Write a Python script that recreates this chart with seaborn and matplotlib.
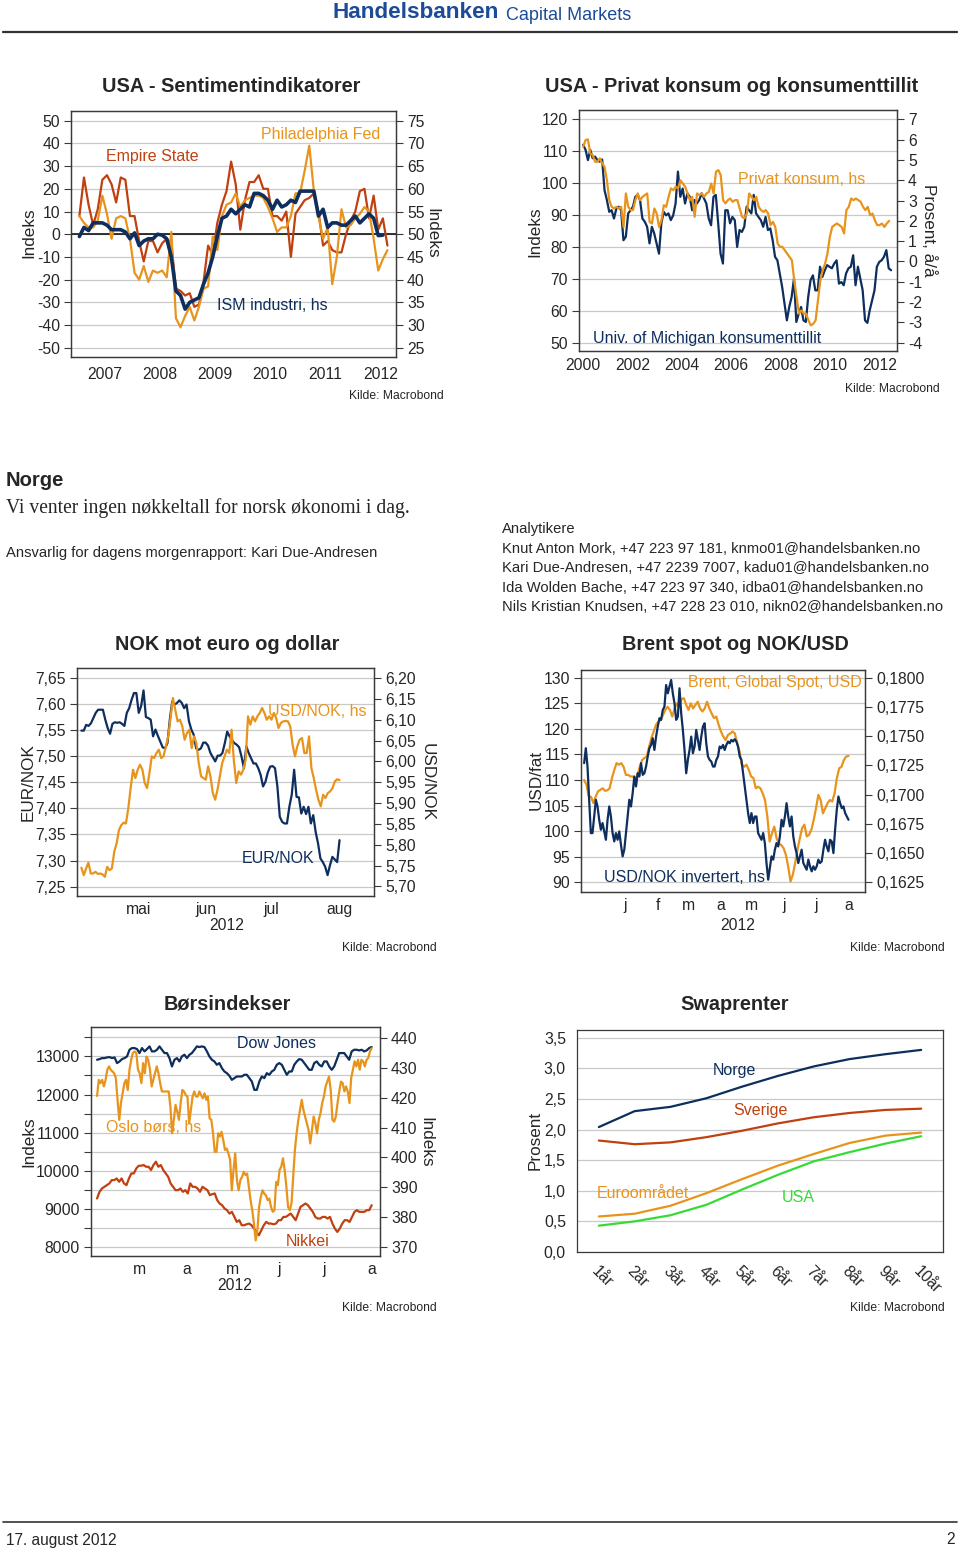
import numpy as np
import pandas as pd
import matplotlib
matplotlib.use("Agg")
import matplotlib.pyplot as plt
import matplotlib.dates as mdates
from matplotlib.ticker import FuncFormatter, NullFormatter
import seaborn as sns

# ---------------- data ----------------
# Panel 1: USA sentiment, monthly Jan 2007 - Aug 2012
empire = [8, 25, 13, 4, 11, 24, 26, 22, 14, 25, 24, 8, 8, -3, -12, -3, -3, -8, -4, -2,
          -4, -24, -25, -27, -26, -32, -31, -21, -5, -9, 5, 13, 19, 32, 22, 2, 15, 23, 23, 26,
          20, 20, 8, 8, 6, 10, -10, 9, 12, 15, 16, 18, 10, -5, -3, -7, -8, -8, 0, 6,
          10, 19, 20, 7, 17, 2, 7, -5]
philly = [8, 5, 3, 3, 6, 17, 9, -2, 7, 8, 7, -2, -17, -20, -14, -21, -16, -17, -16, -19,
          1, -37, -41, -36, -32, -38, -32, -24, -23, -1, -7, 8, 13, 14, 18, 12, 15, 16, 17, 17,
          16, 12, 7, 1, 3, 3, 8, 18, 18, 28, 39, 19, 8, -2, 3, -22, -10, 11, 3, 4,
          7, 9, 12, 10, -2, -16, -11, -7]
ism = [49.5, 51.5, 50.8, 52.5, 52.5, 52.5, 52, 51, 51, 51, 50.5, 49, 50.3, 47.5, 48.5, 49, 49, 50, 49.8, 49,
       45, 37.5, 36.5, 33.5, 35, 35.5, 36, 39, 41.5, 45, 49.5, 53.5, 54, 55.5, 54.5, 55.5, 56.5, 56, 59, 59,
       58.5, 57.5, 55.5, 57.5, 56, 56.5, 57.5, 57, 59.5, 59.5, 59.5, 59.5, 54, 55.5, 51.5, 52.5, 52.5, 52, 52, 53,
       54, 52.5, 53.5, 54.5, 53.5, 49.7, 49.8]
p1_years = ["2007", "2008", "2009", "2010", "2011", "2012"]

# Panel 2: Michigan sentiment (index) and private consumption y/y (%), 2000 - mid 2012
umich = [112, 110.4, 107.2, 110.4, 107.8, 108.3, 107.2, 106.7, 107.4, 97.8, 94.7, 91, 91.5, 88.9, 92, 92.6,
         91.5, 82.1, 83.2, 90.5, 91.5, 92.6, 95.7, 96.3, 94.7, 88.9, 87.9, 86.3, 81.1, 86.3, 84.2, 81.1,
         77.9, 87.4, 91, 89.9, 90.5, 88.4, 89.9, 93.6, 103.6, 95.7, 98.3, 93.6, 96.8, 95.7, 91.5, 94.7,
         93.6, 94.7, 96.8, 95.2, 93.6, 88.9, 86.8, 95.7, 96.3, 87.4, 77.9, 74.8, 91.5, 91.5, 87.4, 89.4,
         88.4, 80.0, 85.3, 84.7, 86.3, 92.6, 91.5, 90.5, 96.3, 90.5, 89.4, 88.4, 86.3, 89.4, 85.3, 85.8,
         82.1, 76.9, 75.8, 71.7, 67.5, 62.2, 57.0, 61.2, 64.3, 70.1, 56.5, 59.1, 61.2, 57, 56.5, 64.3,
         69.6, 71.1, 66.4, 66.4, 73.8, 70.6, 72.7, 74.3, 73.8, 73.3, 74.8, 75.8, 68.5, 69.0, 68.0, 71.7,
         73.3, 73.8, 77.4, 68.0, 73.8, 70.1, 66.4, 57.0, 56.2, 60.2, 63.3, 66.4, 73.8, 75.3, 75.8, 76.9,
         79.0, 73.3, 72.7]
pce = [5.65, 5.98, 6.01, 5.32, 5.24, 4.91, 4.91, 5.08, 4.83, 4.66, 4.0, 3.02, 2.69, 2.61, 2.69, 2.61,
       2.69, 1.70, 3.35, 2.69, 2.53, 2.53, 3.02, 3.35, 3.02, 3.18, 3.27, 3.35, 1.95, 1.87, 2.61, 2.36,
       1.70, 2.03, 2.77, 2.69, 3.18, 3.60, 3.51, 3.68, 3.60, 4.0, 3.84, 3.68, 3.35, 3.02, 3.18, 2.2,
       3.35, 3.27, 3.35, 3.18, 3.35, 3.43, 3.84, 3.35, 4.42, 4.50, 4.25, 3.02, 2.86, 3.02, 3.10, 2.94,
       3.02, 3.02, 2.61, 2.20, 2.12, 2.36, 3.35, 3.18, 3.02, 3.18, 2.69, 2.53, 2.44, 2.53, 2.36, 1.79,
       1.95, 1.70, 0.88, 0.72, 0.72, 0.55, 0.39, 0.22, 0.06, -0.93, -1.75, -2.57, -2.41, -2.57, -2.57, -2.90,
       -3.15, -3.07, -2.90, -1.91, -0.93, -0.43, -0.11, 0.39, 1.21, 1.70, 1.79, 1.87, 1.79, 1.70, 1.38, 2.53,
       2.69, 3.10, 3.02, 3.10, 3.02, 2.94, 2.69, 2.53, 2.69, 2.28, 2.36, 2.03, 1.79, 1.79, 1.87, 1.70,
       1.87, 2.0]

# Panel 3: EUR/NOK and USD/NOK, daily 20 Apr - 16 Aug 2012
eurnok = [7.549, 7.549, 7.560, 7.558, 7.563, 7.573, 7.583, 7.589, 7.589, 7.589, 7.570, 7.554, 7.543, 7.562,
          7.565, 7.564, 7.565, 7.562, 7.558, 7.583, 7.592, 7.608, 7.621, 7.621, 7.583, 7.596, 7.626, 7.575,
          7.573, 7.570, 7.538, 7.551, 7.539, 7.528, 7.517, 7.515, 7.525, 7.570, 7.605, 7.599, 7.602, 7.607,
          7.602, 7.592, 7.599, 7.567, 7.551, 7.541, 7.515, 7.512, 7.515, 7.526, 7.526, 7.520, 7.506, 7.498,
          7.490, 7.501, 7.501, 7.506, 7.525, 7.547, 7.538, 7.531, 7.525, 7.522, 7.517, 7.499, 7.477, 7.519,
          7.506, 7.496, 7.486, 7.486, 7.477, 7.464, 7.442, 7.451, 7.469, 7.480, 7.481, 7.477, 7.442, 7.384,
          7.374, 7.371, 7.371, 7.403, 7.426, 7.474, 7.422, 7.421, 7.390, 7.403, 7.389, 7.403, 7.371, 7.387,
          7.355, 7.333, 7.304, 7.297, 7.288, 7.272, 7.291, 7.307, 7.302, 7.297, 7.339]
usdnok = [5.745, 5.727, 5.743, 5.757, 5.731, 5.731, 5.735, 5.730, 5.731, 5.729, 5.723, 5.747, 5.739, 5.743,
          5.783, 5.803, 5.835, 5.847, 5.853, 5.851, 5.888, 5.936, 5.980, 5.960, 5.980, 5.992, 5.980, 5.948,
          5.936, 5.972, 6.012, 6.008, 6.020, 6.028, 6.008, 6.012, 6.036, 6.060, 6.104, 6.152, 6.124, 6.096,
          6.100, 6.084, 6.052, 6.068, 6.076, 6.032, 6.060, 6.044, 5.996, 5.964, 5.960, 5.956, 5.988, 5.964,
          5.924, 5.908, 5.932, 5.964, 5.996, 6.012, 6.028, 6.020, 6.076, 6.000, 5.948, 5.976, 5.968, 5.980,
          6.004, 6.108, 6.088, 6.108, 6.096, 6.108, 6.116, 6.128, 6.116, 6.100, 6.108, 6.100, 6.116, 6.104,
          6.080, 6.092, 6.096, 6.097, 6.096, 6.084, 6.040, 6.012, 6.036, 6.052, 6.056, 6.020, 6.020, 6.060,
          5.984, 5.960, 5.932, 5.908, 5.892, 5.920, 5.912, 5.924, 5.928, 5.936, 5.952, 5.957, 5.955]
p3_months = ["mai", "jun", "jul", "aug"]

# Panel 4: Brent (USD/fat) and inverted USD/NOK, daily 8 Dec 2011 - 16 Aug 2012
brent = [110.0, 109.1, 106.8, 106.7, 105.5, 106.8, 107.8, 108.1, 108.4, 107.9, 108.0, 108.4, 110.4, 112.0,
         113.3, 113.0, 113.3, 112.6, 111.0, 111.0, 110.7, 110.7, 110.0, 111.0, 112.6, 113.9, 114.3, 114.6,
         116.5, 118.2, 119.5, 120.8, 121.4, 121.7, 122.7, 123.7, 124.3, 123.7, 122.4, 124.0, 125.0, 124.3,
         125.8, 126.0, 124.7, 123.7, 125.0, 124.0, 124.7, 125.3, 124.0, 123.4, 124.0, 125.3, 124.0, 123.0,
         122.1, 122.4, 120.8, 119.5, 118.5, 117.8, 118.8, 119.1, 119.5, 119.1, 117.2, 115.6, 113.0, 112.6,
         113.0, 112.0, 110.7, 110.4, 108.4, 108.7, 108.4, 107.4, 106.1, 102.9, 98.0, 99.6, 100.9, 98.6,
         97.6, 97.3, 96.7, 95.4, 93.1, 90.2, 91.5, 93.8, 96.4, 98.6, 100.6, 101.3, 99.0, 99.3, 100.3, 102.2,
         104.5, 107.1, 106.1, 103.5, 104.5, 105.5, 106.1, 105.8, 107.4, 110.4, 112.3, 112.6, 113.9, 114.6,
         114.7]
nok_inv = [0.17269, 0.17397, 0.17240, 0.16956, 0.16671, 0.16671, 0.16813, 0.16956, 0.16899, 0.16785,
           0.16700, 0.16757, 0.16685, 0.16614, 0.16785, 0.16899, 0.16813, 0.16671, 0.16600, 0.16671,
           0.16614, 0.16685, 0.16572, 0.16472, 0.16529, 0.16671, 0.16813, 0.16956, 0.16899, 0.17013,
           0.17155, 0.17070, 0.17183, 0.17155, 0.17269, 0.17169, 0.17183, 0.17240, 0.17326, 0.17397,
           0.17425, 0.17482, 0.17382, 0.17496, 0.17582, 0.17653, 0.17639, 0.17724, 0.17752, 0.17937,
           0.17866, 0.17923, 0.17980, 0.17866, 0.17781, 0.17639, 0.17667, 0.17909, 0.17696, 0.17553,
           0.17382, 0.17183, 0.17297, 0.17382, 0.17496, 0.17354, 0.17411, 0.17553, 0.17468, 0.17382,
           0.17496, 0.17582, 0.17610, 0.17439, 0.17326, 0.17297, 0.17283, 0.17240, 0.17240, 0.17297,
           0.17326, 0.17411, 0.17397, 0.17425, 0.17382, 0.17425, 0.17454, 0.17439, 0.17468, 0.17454,
           0.17474, 0.17454, 0.17411, 0.17326, 0.17297, 0.17183, 0.17070, 0.16956, 0.16842, 0.16757,
           0.16842, 0.16757, 0.16813, 0.16813, 0.16671, 0.16643, 0.16614, 0.16671, 0.16586, 0.16415,
           0.16273, 0.16373, 0.16472, 0.16444, 0.16529, 0.16586, 0.16557, 0.16643, 0.16785, 0.16728,
           0.16813, 0.16927, 0.16813, 0.16728, 0.16813, 0.16643, 0.16557, 0.16500, 0.16415, 0.16472,
           0.16529, 0.16415, 0.16387, 0.16358, 0.16444, 0.16387, 0.16344, 0.16387, 0.16358, 0.16387,
           0.16444, 0.16415, 0.16430, 0.16529, 0.16614, 0.16557, 0.16515, 0.16614, 0.16600, 0.16500,
           0.16700, 0.16870, 0.16984, 0.16927, 0.16884, 0.16899, 0.16842, 0.16813, 0.16785]
p4_months = ["j", "f", "m", "a", "m", "j", "j", "a"]

# Panel 5: stock indices, daily 17 Feb - 16 Aug 2012
dow = [12912, 12930, 12956, 12956, 12974, 12982, 12956, 12974, 12825, 12868, 12930, 12956, 13000, 13175,
       13219, 13219, 13193, 13088, 13219, 13132, 13193, 13263, 13132, 13132, 13175, 13263, 13175, 13088,
       13088, 12956, 12737, 12912, 12956, 12868, 13000, 13044, 12956, 13044, 13088, 13175, 13263, 13246,
       13263, 13246, 13132, 13000, 12912, 12868, 12781, 12825, 12693, 12605, 12561, 12491, 12386, 12430,
       12474, 12474, 12474, 12518, 12518, 12430, 12342, 12123, 12123, 12342, 12474, 12430, 12561, 12518,
       12605, 12649, 12781, 12825, 12781, 12649, 12518, 12605, 12605, 12781, 12868, 12930, 12912, 12825,
       12737, 12649, 12649, 12825, 12868, 12781, 12737, 12868, 12868, 12737, 12649, 12737, 12912, 13088,
       13088, 13088, 13000, 12912, 13132, 13175, 13175, 13158, 13175, 13132, 13158, 13219, 13246]
oslo = [420.6, 426.0, 424.9, 426.0, 423.8, 426.0, 429.4, 430.5, 429.4, 428.8, 428.2, 426.6, 419.3, 412.6,
        418.2, 421.5, 424.9, 426.0, 422.6, 429.4, 432.7, 435.0, 435.5, 435.0, 429.4, 428.2, 424.9, 431.6,
        428.2, 433.8, 432.7, 429.4, 423.8, 426.0, 428.2, 430.5, 428.2, 424.9, 422.1, 422.1, 422.1, 422.1,
        422.1, 417.0, 408.1, 412.6, 417.6, 415.4, 412.6, 418.2, 422.6, 422.1, 420.9, 420.4, 411.4, 415.9,
        420.4, 422.1, 420.4, 420.4, 422.1, 420.9, 419.8, 421.5, 419.3, 420.4, 413.1, 412.6, 408.1, 401.9,
        401.9, 408.1, 407.0, 408.6, 405.8, 402.5, 403.0, 401.4, 399.2, 389.0, 395.8, 401.4, 392.4, 389.0,
        392.4, 393.5, 395.2, 394.1, 394.6, 390.2, 385.7, 382.3, 377.8, 372.2, 375.6, 383.4, 386.8, 389.0,
        387.9, 387.3, 385.7, 386.2, 383.4, 381.8, 382.3, 391.8, 390.7, 395.8, 396.9, 399.7, 395.8, 390.2,
        383.4, 382.3, 384.6, 393.5, 402.5, 408.1, 412.6, 415.9, 419.3, 415.9, 413.7, 411.4, 409.2, 404.7,
        409.2, 413.7, 411.4, 408.1, 412.6, 414.8, 418.2, 420.4, 423.8, 425.4, 427.1, 422.6, 412.6, 412.0,
        413.7, 418.2, 422.1, 425.4, 424.9, 422.1, 423.8, 422.1, 418.2, 426.6, 429.4, 432.2, 430.5, 432.7,
        429.4, 432.7, 432.2, 430.5, 432.7, 433.3, 435.5, 436.6]
nikkei = [9272, 9447, 9535, 9579, 9623, 9667, 9754, 9754, 9798, 9711, 9798, 9667, 9623, 9798, 9930, 9930,
          10061, 10132, 10132, 10149, 10105, 10105, 10018, 10149, 10237, 10105, 10149, 10018, 9930, 9842,
          9667, 9579, 9491, 9491, 9535, 9447, 9491, 9404, 9667, 9579, 9579, 9535, 9447, 9579, 9535, 9491,
          9360, 9386, 9404, 9228, 9140, 9096, 9009, 8965, 8877, 8921, 8789, 8658, 8702, 8570, 8570, 8596,
          8614, 8570, 8482, 8395, 8307, 8439, 8570, 8658, 8614, 8614, 8596, 8614, 8702, 8702, 8789, 8789,
          8833, 8877, 8789, 8702, 8877, 9053, 9096, 9140, 9096, 9009, 8921, 8789, 8746, 8746, 8789, 8789,
          8746, 8789, 8614, 8482, 8395, 8482, 8614, 8702, 8702, 8658, 8789, 8921, 8965, 8921, 8921, 8921,
          8965, 8965, 9096]
p5_months = ["m", "a", "m", "j", "j", "a"]

# Panel 6: swap curves (%)
tenors = ["1år", "2år", "3år", "4år", "5år", "6år", "7år", "8år", "9år", "10år"]
swap_norge = [2.04, 2.30, 2.37, 2.51, 2.70, 2.875, 3.03, 3.15, 3.23, 3.30]
swap_sverige = [1.82, 1.76, 1.79, 1.875, 1.98, 2.10, 2.20, 2.27, 2.32, 2.34]
swap_euro = [0.58, 0.625, 0.755, 0.96, 1.19, 1.41, 1.60, 1.78, 1.90, 1.95]
swap_usa = [0.43, 0.50, 0.60, 0.77, 1.02, 1.26, 1.48, 1.63, 1.77, 1.89]

# ---------------- style ----------------
sns.set_style("white")
plt.rcParams['font.family'] = ['Liberation Sans', 'DejaVu Sans']
plt.rcParams['axes.unicode_minus'] = False

NAVY = '#0E2E5E'
ORANGE = '#E8941C'
RED = '#C0400F'
GREEN = '#36DB36'
GRID = '#C9C9C9'
SPINE = '#3A3A3A'
BLUE_HDR = '#1C4B98'
TICK_FS = 11.3
LAB_FS = 12.3
SER_FS = 11.5
TITLE_FS = 14.3
SRC_FS = 8.7
BODY_FS = 10.6

W, H = 960, 1550
fig = plt.figure(figsize=(W / 100, H / 100), dpi=100)


def rect(x0, y0, x1, y1):
    return [x0 / W, 1 - y1 / H, (x1 - x0) / W, (y1 - y0) / H]


def ftext(x, y, s, **kw):
    kw.setdefault('va', 'center')
    fig.text(x / W, 1 - y / H, s, **kw)


def style(ax):
    for s in ax.spines.values():
        s.set_color(SPINE)
        s.set_linewidth(0.9)
    ax.tick_params(axis='both', which='both', direction='out', width=0.8, color=SPINE,
                   labelsize=TICK_FS, pad=3, length=5)
    ax.set_xlabel('')
    ax.set_ylabel('')


def comma(dec):
    return FuncFormatter(lambda v, p: f"{v:.{dec}f}".replace('.', ','))


def month_axis(ax, first_month, names, year=2012):
    ax.xaxis.set_major_locator(mdates.MonthLocator())
    ax.xaxis.set_major_formatter(NullFormatter())
    mids = [mdates.date2num(pd.Timestamp(year, first_month + i, 16)) for i in range(len(names))]
    ax.set_xticks(mids, minor=True)
    ax.set_xticklabels(names, minor=True)
    ax.tick_params(axis='x', which='minor', length=0, pad=4)
    ax.tick_params(axis='x', which='major', length=5)


# ---------------- header / footer ----------------
fig.add_artist(plt.Line2D([3 / W, 957 / W], [1 - 32 / H, 1 - 32 / H], color='#333333', lw=1.6))
fig.add_artist(plt.Line2D([3 / W, 957 / W], [1 - 1522 / H, 1 - 1522 / H], color='#333333', lw=1.2))
ftext(333, 13, "Handelsbanken", ha='left', color=BLUE_HDR, fontsize=16.2, fontweight='bold')
ftext(506, 15, "Capital Markets", ha='left', color=BLUE_HDR, fontsize=13)
ftext(6, 1540, "17. august 2012", ha='left', fontsize=11.2)
ftext(955, 1540, "2", ha='right', fontsize=11.2)

# ---------------- Panel 1 ----------------
ax1 = fig.add_axes(rect(71, 111, 396, 357))
t1 = 2007 + (np.arange(len(empire)) + 0.5) / 12
sns.lineplot(x=t1, y=empire, ax=ax1, color=RED, lw=1.6)
sns.lineplot(x=t1, y=philly, ax=ax1, color=ORANGE, lw=1.6)
ax1.axhline(0, color='black', lw=1.1, zorder=1.5)
ax1b = ax1.twinx()
sns.lineplot(x=t1[:len(ism)], y=ism, ax=ax1b, color=NAVY, lw=2.6)
ax1.set_ylim(-54.1, 54.3)
ax1.set_yticks(range(-50, 51, 10))
ax1.yaxis.grid(True, color=GRID, lw=0.9)
ax1.set_axisbelow(True)
ax1.set_xticks(range(2007, 2013))
ax1.set_xticklabels([])
ax1.set_xticks(np.arange(2007.5, 2013, 1), minor=True)
ax1.set_xticklabels(p1_years, minor=True)
style(ax1)
ax1.tick_params(axis='x', which='minor', length=0, pad=7)
ax1b.set_ylim(22.95, 77.15)
ax1b.set_yticks(range(25, 76, 5))
style(ax1b)
ax1.set_xlim(2006.89, 2012.78)
ftext(231, 86, "USA - Sentimentindikatorer", ha='center', fontsize=TITLE_FS, fontweight='bold')
ftext(29, 233, "Indeks", ha='center', rotation=90, fontsize=LAB_FS)
ftext(432, 233, "Indeks", ha='center', rotation=270, fontsize=LAB_FS)
ftext(106, 157, "Empire State", ha='left', color=RED, fontsize=SER_FS)
ftext(380, 135, "Philadelphia Fed", ha='right', color=ORANGE, fontsize=SER_FS)
ftext(217, 306, "ISM industri, hs", ha='left', color=NAVY, fontsize=SER_FS)
ftext(444, 396, "Kilde: Macrobond", ha='right', fontsize=SRC_FS)

# ---------------- Panel 2 ----------------
ax2 = fig.add_axes(rect(579, 110, 897, 351))
t_um = np.linspace(2000.0, 2012.48, len(umich))
sns.lineplot(x=t_um, y=umich, ax=ax2, color=NAVY, lw=1.6)
ax2b = ax2.twinx()
t_pce = np.linspace(2000.0, 2012.40, len(pce))
sns.lineplot(x=t_pce, y=pce, ax=ax2b, color=ORANGE, lw=1.6)
ax2.set_ylim(47.4, 122.9)
ax2.set_yticks(range(50, 121, 10))
ax2.yaxis.grid(True, color=GRID, lw=0.9)
ax2.set_axisbelow(True)
ax2.set_xticks(range(2000, 2013, 2))
ax2.set_xticklabels([str(y) for y in range(2000, 2013, 2)])
style(ax2)
ax2.tick_params(axis='x', length=0, pad=5)
ax2b.set_ylim(-4.41, 7.46)
ax2b.set_yticks(range(-4, 8))
style(ax2b)
ax2.set_xlim(1999.83, 2012.72)
ftext(732, 86, "USA - Privat konsum og konsumenttillit", ha='center', fontsize=TITLE_FS, fontweight='bold')
ftext(535, 232, "Indeks", ha='center', rotation=90, fontsize=LAB_FS)
ftext(929, 230, "Prosent, å/å", ha='center', rotation=270, fontsize=LAB_FS)
ftext(738, 179, "Privat konsum, hs", ha='left', color=ORANGE, fontsize=SER_FS)
ftext(593, 339, "Univ. of Michigan konsumenttillit", ha='left', color=NAVY, fontsize=SER_FS)
ftext(940, 389, "Kilde: Macrobond", ha='right', fontsize=SRC_FS)

# ---------------- Text block ----------------
ftext(6, 481, "Norge", ha='left', fontsize=14.5, fontweight='bold')
ftext(6, 508, "Vi venter ingen nøkkeltall for norsk økonomi i dag.", ha='left', fontsize=14.1,
      family=['Liberation Serif', 'DejaVu Serif'])
ftext(6, 553, "Ansvarlig for dagens morgenrapport: Kari Due-Andresen", ha='left', fontsize=BODY_FS)
analysts = ["Analytikere",
            "Knut Anton Mork, +47 223 97 181, knmo01@handelsbanken.no",
            "Kari Due-Andresen, +47 2239 7007, kadu01@handelsbanken.no",
            "Ida Wolden Bache, +47 223 97 340, idba01@handelsbanken.no",
            "Nils Kristian Knudsen, +47 228 23 010, nikn02@handelsbanken.no"]
for i, line in enumerate(analysts):
    ftext(502, 529 + i * 19.6, line, ha='left', fontsize=BODY_FS)

# ---------------- Panel 3 ----------------
ax3 = fig.add_axes(rect(77, 668, 374, 896))
d3e = pd.Series(pd.date_range("2012-04-20", "2012-08-16", periods=len(eurnok)))
d3u = pd.Series(pd.date_range("2012-04-20", "2012-08-16", periods=len(usdnok)))
sns.lineplot(x=d3e, y=eurnok, ax=ax3, color=NAVY, lw=1.6)
ax3b = ax3.twinx()
sns.lineplot(x=d3u, y=usdnok, ax=ax3b, color=ORANGE, lw=1.6)
ax3.set_ylim(7.232, 7.669)
ax3.set_yticks(np.round(np.arange(7.25, 7.651, 0.05), 2))
ax3.yaxis.set_major_formatter(comma(2))
ax3.yaxis.grid(True, color=GRID, lw=0.9)
ax3.set_axisbelow(True)
style(ax3)
month_axis(ax3, 5, p3_months)
ax3b.set_ylim(5.677, 6.224)
ax3b.set_yticks(np.round(np.arange(5.70, 6.201, 0.05), 2))
ax3b.yaxis.set_major_formatter(comma(2))
style(ax3b)
ax3.set_xlim(mdates.date2num(pd.Timestamp("2012-04-18")), mdates.date2num(pd.Timestamp("2012-08-31 18:00")))
ftext(227, 644, "NOK mot euro og dollar", ha='center', fontsize=TITLE_FS, fontweight='bold')
ftext(28, 782, "EUR/NOK", ha='center', rotation=90, fontsize=LAB_FS)
ftext(427, 782, "USD/NOK", ha='center', rotation=270, fontsize=LAB_FS)
ftext(367, 712, "USD/NOK, hs", ha='right', color=ORANGE, fontsize=SER_FS)
ftext(242, 858, "EUR/NOK", ha='left', color=NAVY, fontsize=SER_FS)
ftext(227, 925, "2012", ha='center', fontsize=TICK_FS)
ftext(437, 948, "Kilde: Macrobond", ha='right', fontsize=SRC_FS)

# ---------------- Panel 4 ----------------
ax4 = fig.add_axes(rect(581, 670, 865, 892))
d4b = pd.Series(pd.date_range("2011-12-08", "2012-08-16", periods=len(brent)))
d4n = pd.Series(pd.date_range("2011-12-08", "2012-08-16", periods=len(nok_inv)))
sns.lineplot(x=d4b, y=brent, ax=ax4, color=ORANGE, lw=1.6)
ax4b = ax4.twinx()
sns.lineplot(x=d4n, y=nok_inv, ax=ax4b, color=NAVY, lw=1.6)
ax4.set_ylim(88.13, 131.5)
ax4.set_yticks(range(90, 131, 5))
ax4.yaxis.grid(True, color=GRID, lw=0.9)
ax4.set_axisbelow(True)
style(ax4)
month_axis(ax4, 1, p4_months)
ax4b.set_ylim(0.161675, 0.180654)
ax4b.set_yticks(np.round(np.arange(0.1625, 0.18001, 0.0025), 4))
ax4b.yaxis.set_major_formatter(comma(4))
style(ax4b)
ax4.set_xlim(mdates.date2num(pd.Timestamp("2011-12-05")), mdates.date2num(pd.Timestamp("2012-08-31 18:00")))
ftext(735, 644, "Brent spot og NOK/USD", ha='center', fontsize=TITLE_FS, fontweight='bold')
ftext(536, 780, "USD/fat", ha='center', rotation=90, fontsize=LAB_FS)
ftext(862, 683, "Brent, Global Spot, USD", ha='right', color=ORANGE, fontsize=SER_FS)
ftext(604, 877, "USD/NOK invertert, hs", ha='left', color=NAVY, fontsize=SER_FS)
ftext(738, 925, "2012", ha='center', fontsize=TICK_FS)
ftext(945, 948, "Kilde: Macrobond", ha='right', fontsize=SRC_FS)

# ---------------- Panel 5 ----------------
ax5 = fig.add_axes(rect(91, 1027, 380, 1256))
d5d = pd.Series(pd.date_range("2012-02-17", "2012-08-16", periods=len(dow)))
d5n = pd.Series(pd.date_range("2012-02-17", "2012-08-16", periods=len(nikkei)))
d5o = pd.Series(pd.date_range("2012-02-17", "2012-08-16", periods=len(oslo)))
sns.lineplot(x=d5d, y=dow, ax=ax5, color=NAVY, lw=1.6)
sns.lineplot(x=d5n, y=nikkei, ax=ax5, color=RED, lw=1.6)
ax5b = ax5.twinx()
sns.lineplot(x=d5o, y=oslo, ax=ax5b, color=ORANGE, lw=1.6)
ax5.set_ylim(7763, 13772)
ax5.set_yticks(range(8000, 13001, 1000))
ax5.set_yticks(range(8500, 13501, 1000), minor=True)
ax5.yaxis.grid(True, which='both', color=GRID, lw=0.9)
ax5.set_axisbelow(True)
style(ax5)
month_axis(ax5, 3, p5_months)
ax5b.set_ylim(366.98, 443.7)
ax5b.set_yticks(range(370, 441, 10))
style(ax5b)
ax5.set_xlim(mdates.date2num(pd.Timestamp("2012-02-13")), mdates.date2num(pd.Timestamp("2012-08-21 12:00")))
ftext(227, 1004, "Børsindekser", ha='center', fontsize=TITLE_FS, fontweight='bold')
ftext(29, 1142, "Indeks", ha='center', rotation=90, fontsize=LAB_FS)
ftext(426, 1142, "Indeks", ha='center', rotation=270, fontsize=LAB_FS)
ftext(237, 1043, "Dow Jones", ha='left', color=NAVY, fontsize=SER_FS)
ftext(106, 1128, "Oslo børs, hs", ha='left', color=ORANGE, fontsize=SER_FS, zorder=0)
ftext(286, 1242, "Nikkei", ha='left', color=RED, fontsize=SER_FS)
ftext(235, 1285, "2012", ha='center', fontsize=TICK_FS)
ftext(437, 1308, "Kilde: Macrobond", ha='right', fontsize=SRC_FS)

# ---------------- Panel 6 ----------------
ax6 = fig.add_axes(rect(577, 1030, 943, 1252))
xs = np.arange(len(tenors))
for vals, col in [(swap_norge, NAVY), (swap_sverige, RED), (swap_euro, ORANGE), (swap_usa, GREEN)]:
    sns.lineplot(x=xs, y=vals, ax=ax6, color=col, lw=1.6)
ax6.set_ylim(0, 3.625)
ax6.set_yticks(np.arange(0, 3.51, 0.5))
ax6.yaxis.set_major_formatter(comma(1))
ax6.yaxis.grid(True, color=GRID, lw=0.9)
ax6.set_axisbelow(True)
style(ax6)
ax6.set_xticks(xs)
ax6.set_xticklabels(tenors, rotation=-45, ha='left', va='top', rotation_mode='anchor')
ax6.tick_params(axis='x', which='major', length=0, pad=8)
ax6.set_xticks(np.arange(-0.5, 9.6, 1), minor=True)
ax6.tick_params(axis='x', which='minor', length=5)
ax6.set_xlim(-0.61, 9.61)
ftext(735, 1004, "Swaprenter", ha='center', fontsize=TITLE_FS, fontweight='bold')
ftext(535, 1140, "Prosent", ha='center', rotation=90, fontsize=LAB_FS)
ftext(713, 1071, "Norge", ha='left', color=NAVY, fontsize=SER_FS)
ftext(733, 1110, "Sverige", ha='left', color=RED, fontsize=SER_FS)
ftext(597, 1193, "Euroområdet", ha='left', color=ORANGE, fontsize=SER_FS)
ftext(782, 1197, "USA", ha='left', color=GREEN, fontsize=SER_FS)
ftext(945, 1308, "Kilde: Macrobond", ha='right', fontsize=SRC_FS)

fig.savefig("out.png", dpi=100, facecolor='white')
